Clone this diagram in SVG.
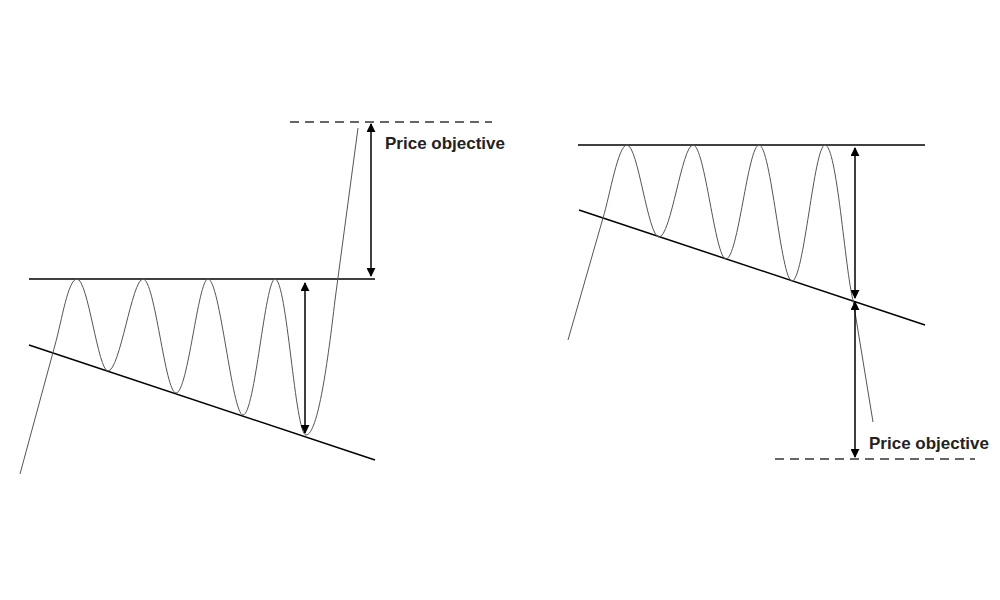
<svg xmlns="http://www.w3.org/2000/svg" width="1000" height="600" viewBox="0 0 1000 600">
<style>
.ln{stroke:#000;stroke-width:1.5;fill:none}
.pr{stroke:#555;stroke-width:1;fill:none}
.ds{stroke:#666;stroke-width:2;stroke-dasharray:9,6;fill:none}
.ar{stroke:#000;stroke-width:1.5;fill:none;marker-start:url(#a);marker-end:url(#a)}
.tx{font-family:"Liberation Sans",Arial,sans-serif;font-weight:bold;font-size:17px;fill:#222}
</style>
<defs>
<marker id="a" viewBox="0 0 10 10" refX="9" refY="5" markerWidth="6" markerHeight="6" orient="auto-start-reverse">
<path d="M0,0 L10,5 L0,10 z" fill="#000"/>
</marker>
</defs>
<rect width="1000" height="600" fill="#fff"/>
<g id="left">
<line class="ln" x1="29" y1="279" x2="375" y2="279"/>
<line class="ln" x1="29" y1="345" x2="375" y2="460"/>
<path class="pr" d="M20,474 L55,345 C62,320 68,279 77,279 C88,279 98,371 108,371 C120,371 132,279 143,279 C155,279 165,393 176,393 C188,393 198,279 208,279 C220,279 232,415 243,415 C255,415 265,279 275,279 C287,279 295,435 306,435 C318,435 328,360 335,300 L358,128"/>
<line class="ds" x1="290" y1="122" x2="492" y2="122"/>
<line class="ar" x1="305" y1="283" x2="305" y2="433"/>
<line class="ar" x1="371" y1="124" x2="371" y2="276"/>
<text class="tx" x="385" y="149">Price objective</text>
</g>
<g id="right">
<line class="ln" x1="578" y1="145" x2="925" y2="145"/>
<line class="ln" x1="579" y1="210" x2="925" y2="325"/>
<path class="pr" d="M568,340 L603,218 C610,195 618,145 627,145 C638,145 648,237 659,237 C671,237 682,145 693,145 C705,145 715,259 726,259 C738,259 748,145 759,145 C771,145 781,281 792,281 C804,281 814,145 825,145 C837,145 845,270 853,300 L873,422"/>
<line class="ds" x1="775" y1="459" x2="975" y2="459"/>
<line class="ar" x1="855" y1="148" x2="855" y2="298"/>
<line class="ar" x1="855" y1="302" x2="855" y2="457"/>
<text class="tx" x="869" y="449">Price objective</text>
</g>
</svg>
